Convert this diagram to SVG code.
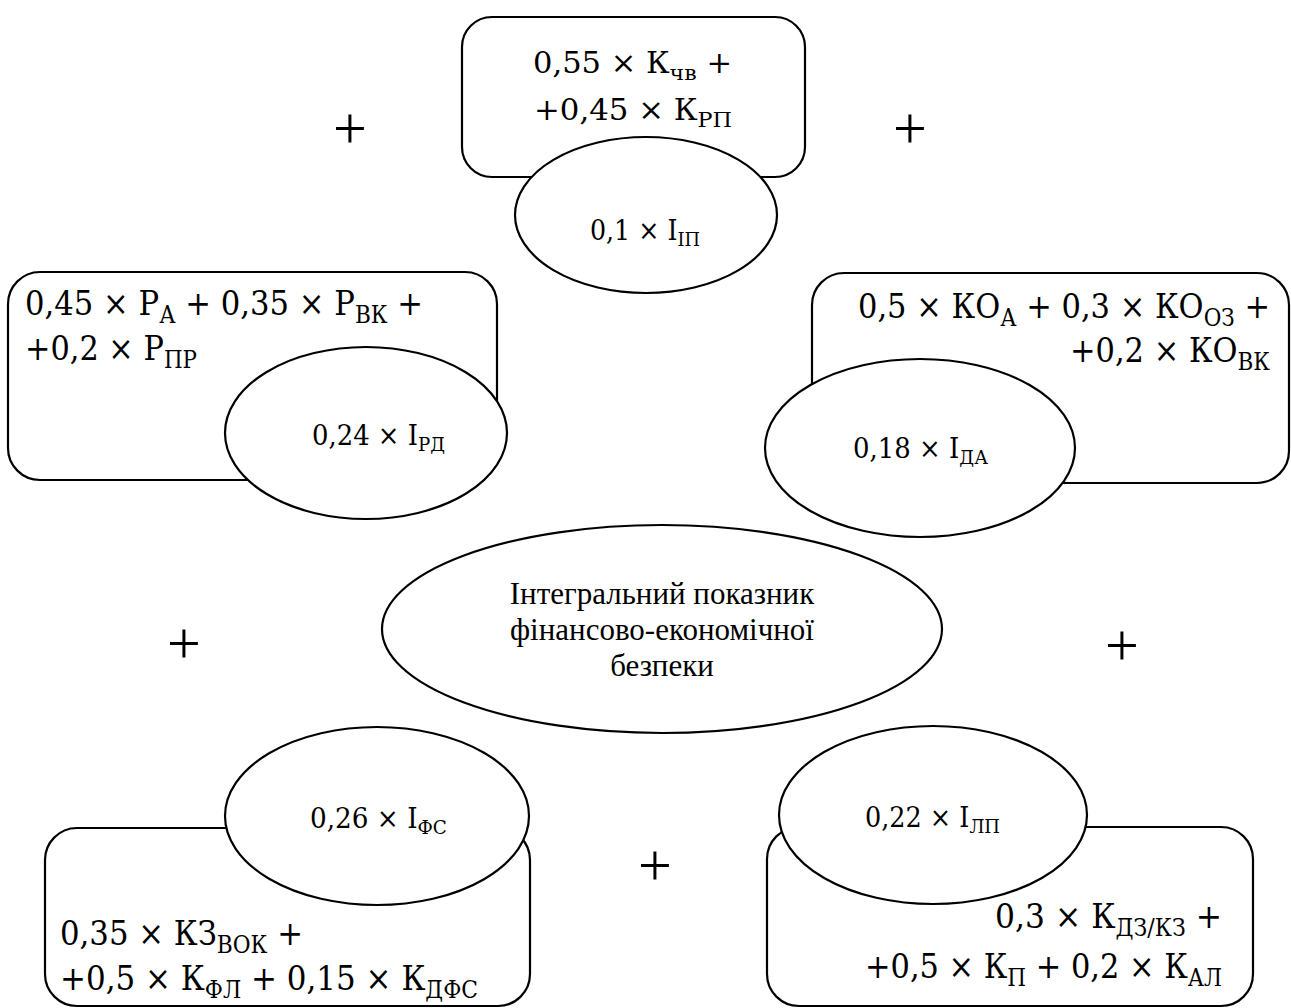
<svg xmlns="http://www.w3.org/2000/svg" width="1291" height="1008" viewBox="0 0 1291 1008">
<style>
.box{fill:#fff;stroke:#000;stroke-width:2.2}
.ell{fill:#fff;stroke:#000;stroke-width:2.2}
.m{font-family:"DejaVu Serif","Liberation Serif",serif;fill:#000}
.big{font-size:34px}
.mid{font-size:29px}
.sm{font-size:27px}
.big .s{font-size:24px}
.mid .s{font-size:21px}
.sm .s{font-size:19px}
.c{font-family:"Liberation Serif","Times New Roman",serif;font-size:31px;fill:#000;text-anchor:middle}
.plus{font-family:"Liberation Serif",serif;font-size:60px;fill:#000;text-anchor:middle}
</style>
<g id="connectors">
<text class="plus" x="350" y="148">+</text>
<text class="plus" x="910" y="148">+</text>
<text class="plus" x="184" y="663">+</text>
<text class="plus" x="1122" y="665">+</text>
<text class="plus" x="655" y="885">+</text>
</g>
<g id="node-top">
<rect class="box" x="462" y="17" width="343" height="160" rx="30"/>
<text class="m mid" x="533" y="73" textLength="199" lengthAdjust="spacingAndGlyphs">0,55 × К<tspan class="s" dy="7">чв</tspan><tspan dy="-7"> +</tspan></text>
<text class="m mid" x="534" y="120" textLength="198" lengthAdjust="spacingAndGlyphs">+0,45 × К<tspan class="s" dy="7">РП</tspan></text>
<ellipse class="ell" cx="646" cy="215" rx="131" ry="78"/>
<text class="m sm" x="590" y="240" textLength="110" lengthAdjust="spacingAndGlyphs">0,1 × І<tspan class="s" dy="6">ІП</tspan></text>
</g>
<g id="node-left">
<rect class="box" x="8" y="272" width="489" height="208" rx="32"/>
<text class="m big" x="25" y="315" textLength="398" lengthAdjust="spacingAndGlyphs">0,45 × Р<tspan class="s" dy="8">А</tspan><tspan dy="-8"> + 0,35 × Р</tspan><tspan class="s" dy="8">ВК</tspan><tspan dy="-8"> +</tspan></text>
<text class="m big" x="25" y="360" textLength="172" lengthAdjust="spacingAndGlyphs">+0,2 × Р<tspan class="s" dy="8">ПР</tspan></text>
<ellipse class="ell" cx="366" cy="433" rx="141" ry="86"/>
<text class="m sm" x="312" y="445" textLength="133" lengthAdjust="spacingAndGlyphs">0,24 × І<tspan class="s" dy="6">РД</tspan></text>
</g>
<g id="node-right">
<rect class="box" x="812" y="273" width="477" height="210" rx="32"/>
<text class="m big" x="858" y="318" textLength="412" lengthAdjust="spacingAndGlyphs">0,5 × КО<tspan class="s" dy="8">А</tspan><tspan dy="-8"> + 0,3 × КО</tspan><tspan class="s" dy="8">ОЗ</tspan><tspan dy="-8"> +</tspan></text>
<text class="m big" x="1070" y="362" textLength="200" lengthAdjust="spacingAndGlyphs">+0,2 × КО<tspan class="s" dy="8">ВК</tspan></text>
<ellipse class="ell" cx="920" cy="448" rx="155" ry="89"/>
<text class="m sm" x="853" y="458" textLength="135" lengthAdjust="spacingAndGlyphs">0,18 × І<tspan class="s" dy="6">ДА</tspan></text>
</g>
<g id="node-bottom-left">
<rect class="box" x="45" y="828" width="485" height="178" rx="32"/>
<text class="m big" x="60" y="945" textLength="243" lengthAdjust="spacingAndGlyphs">0,35 × КЗ<tspan class="s" dy="8">ВОК</tspan><tspan dy="-8"> +</tspan></text>
<text class="m big" x="60" y="990" textLength="418" lengthAdjust="spacingAndGlyphs">+0,5 × К<tspan class="s" dy="8">ФЛ</tspan><tspan dy="-8"> + 0,15 × К</tspan><tspan class="s" dy="8">ДФС</tspan></text>
<ellipse class="ell" cx="377" cy="816" rx="152" ry="89"/>
<text class="m sm" x="310" y="828" textLength="137" lengthAdjust="spacingAndGlyphs">0,26 × І<tspan class="s" dy="6">ФС</tspan></text>
</g>
<g id="node-bottom-right">
<rect class="box" x="767" y="827" width="486" height="179" rx="32"/>
<text class="m big" x="995" y="928" textLength="227" lengthAdjust="spacingAndGlyphs">0,3 × К<tspan class="s" dy="8">ДЗ/КЗ</tspan><tspan dy="-8"> +</tspan></text>
<text class="m big" x="865" y="978" textLength="357" lengthAdjust="spacingAndGlyphs">+0,5 × К<tspan class="s" dy="8">П</tspan><tspan dy="-8"> + 0,2 × К</tspan><tspan class="s" dy="8">АЛ</tspan></text>
<ellipse class="ell" cx="933" cy="815" rx="154" ry="89"/>
<text class="m sm" x="865" y="827" textLength="135" lengthAdjust="spacingAndGlyphs">0,22 × І<tspan class="s" dy="6">ЛП</tspan></text>
</g>
<g id="node-center">
<ellipse class="ell" cx="662" cy="629" rx="280" ry="104"/>
<text class="c" x="662" y="604">Інтегральний показник</text>
<text class="c" x="662" y="640">фінансово-економічної</text>
<text class="c" x="662" y="676">безпеки</text>
</g>
</svg>
